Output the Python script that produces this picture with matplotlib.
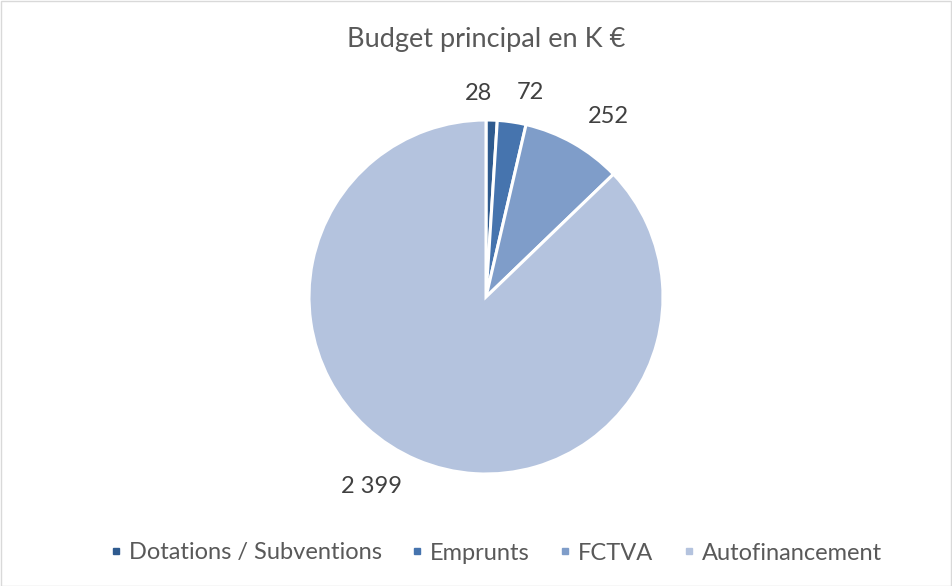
import numpy as np
import matplotlib.pyplot as plt
from matplotlib.lines import Line2D
from matplotlib.patches import Rectangle

plt.rcParams['font.family'] = ['Lato', 'DejaVu Sans']

categories = ["Dotations / Subventions", "Emprunts", "FCTVA", "Autofinancement"]
values = [28, 72, 252, 2399]
value_labels = ["28", "72", "252", "2 399"]
colors = ["#2F5B8F", "#4674AE", "#7F9DC9", "#B4C3DE"]

W, H = 952, 586
fig = plt.figure(figsize=(W / 100, H / 100), dpi=100)

# pie centre and radius in pixels
cx, cy, r = 486, 297, 177
ax = fig.add_axes([(cx - r) / W, (H - cy - r) / H, 2 * r / W, 2 * r / H])
wedges, _ = ax.pie(values, colors=colors, startangle=90, counterclock=False,
                   radius=1, wedgeprops=dict(edgecolor="white", linewidth=2.2))
ax.set_xlim(-1, 1)
ax.set_ylim(-1, 1)
ax.set_aspect("equal")
ax.axis("off")

# data labels outside the slices
label_r = [1.15, 1.18, 1.23, 1.25]
label_shift = [4, -4, -4.5, -8]  # degrees
for w, lab, lr, sh in zip(wedges, value_labels, label_r, label_shift):
    ang = np.deg2rad((w.theta1 + w.theta2) / 2 + sh)
    ax.text(lr * np.cos(ang), lr * np.sin(ang), lab, ha="center", va="center",
            fontsize=17, color="#404040", clip_on=False)

fig.text(cx / W, 1 - 40 / H, "Budget principal en K €", ha="center", va="center",
         fontsize=19.5, color="#595959")

handles = [Line2D([0], [0], marker="s", linestyle="None", markersize=5,
                  markerfacecolor=c, markeredgecolor=c) for c in colors]
fig.legend(handles, categories, loc="center", bbox_to_anchor=(490 / W, 1 - 553 / H),
           ncol=4, frameon=False, fontsize=17, handletextpad=-0.2,
           handlelength=1.5, columnspacing=0.75, labelcolor="#595959")

fig.patches.append(Rectangle((0.5 / W, 0.5 / H), 1 - 1.5 / W, 1 - 1.5 / H,
                             transform=fig.transFigure, fill=False,
                             edgecolor="#D9D9D9", linewidth=1))

fig.savefig("out.png", dpi=100)
